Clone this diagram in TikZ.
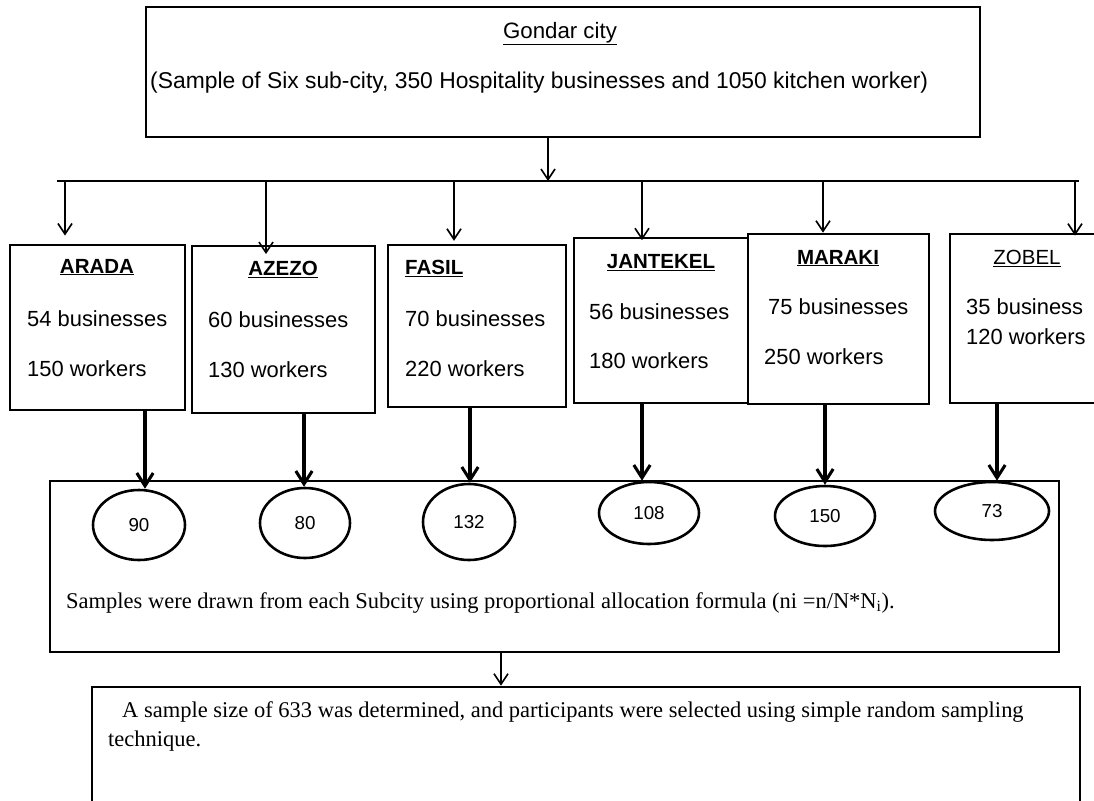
\documentclass[tikz,border=0pt]{standalone}
\usepackage{fontspec}
\setmainfont{Liberation Sans}
\newfontfamily\timesfont{Liberation Serif}
\usetikzlibrary{arrows.meta,positioning,fit,shapes.geometric}

\begin{document}
\begin{tikzpicture}[x=0.03cm,y=-0.03cm,
  >={Straight Barb[length=9pt,width=12pt]},
  box/.style={draw,line width=2.2pt,inner sep=0pt},
  oval/.style={draw,ellipse,line width=2.2pt,inner sep=0pt,font=\fontsize{16}{18}\selectfont},
  txt/.style={anchor=base west,inner sep=0pt,font=\fontsize{18.7}{22}\selectfont},
  ttl/.style={anchor=base,inner sep=0pt,font=\fontsize{17.5}{21}\selectfont},
  serif/.style={anchor=base west,inner sep=0pt,font=\timesfont\fontsize{19.2}{23}\selectfont},
  link/.style={->,line width=1.4pt},
  drop/.style={->,line width=2.6pt,>={Straight Barb[length=11pt,width=14pt]}}]
  \useasboundingbox (0,0) rectangle (1094,800);

  % City box
  \node[box,fit={(146,7)(980,137)}] (city) {};
  \node[ttl,font=\fontsize{19}{22}\selectfont] (cityname) at (560,38) {\underline{Gondar city}};
  \node[txt,font=\fontsize{19.5}{23}\selectfont] (citysample) at (150,88) {(Sample of Six sub-city, 350 Hospitality businesses and 1050 kitchen worker)};

  % Branch line
  \coordinate (busw) at (57,181);
  \coordinate (buse) at (1079,181);
  \draw[line width=2.4pt] (busw) -- (buse);
  \draw[link] (548,0 |- city.south) -- (548,0 |- busw);

  % Sub-city boxes
  \node[box,fit={(10,245)(185,410)}] (arada) {};
  \node[ttl] at (97,273) {\underline{\textbf{ARADA}}};
  \node[txt] at (27,326) {54 businesses};
  \node[txt] at (27,376) {150 workers};

  \node[box,fit={(192,246)(375,413)}] (azezo) {};
  \node[ttl] at (283,275) {\underline{\textbf{AZEZO}}};
  \node[txt] at (208,327) {60 businesses};
  \node[txt] at (208,377) {130 workers};

  \node[box,fit={(388,245)(566,407)}] (fasil) {};
  \node[txt,font=\fontsize{17.5}{21}\selectfont] at (405,274) {\underline{\textbf{FASIL}}};
  \node[txt] at (405,326) {70 businesses};
  \node[txt] at (405,376) {220 workers};

  \node[box,fit={(574,238)(748,403)}] (jantekel) {};
  \node[ttl] at (661,268) {\underline{\textbf{JANTEKEL}}};
  \node[txt] at (589,319) {56 businesses};
  \node[txt] at (589,368) {180 workers};

  \node[box,fit={(748,234)(929,404)}] (maraki) {};
  \node[ttl] at (838,264) {\underline{\textbf{MARAKI}}};
  \node[txt] at (768,314) {75 businesses};
  \node[txt] at (764,364) {250 workers};

  \node[box,fit={(950,234)(1100,403)}] (zobel) {};
  \node[ttl] at (1027,264) {\underline{ZOBEL}};
  \node[txt] at (966,314) {35 business};
  \node[txt] at (966,344) {120 workers};

  % Drops from the branch line
  \draw[link,shorten >=7pt] (65,0 |- busw) -- (65,0 |- arada.north);
  \draw[link,shorten >=-8pt] (266,0 |- busw) -- (266,0 |- azezo.north);
  \draw[link,shorten >=2.5pt] (454,0 |- busw) -- (454,0 |- fasil.north);
  \draw[link,shorten >=-3pt] (642,0 |- busw) -- (642,0 |- jantekel.north);
  \draw[link] (823,0 |- busw) -- (823,0 |- maraki.north);
  \draw[link,shorten >=-2.5pt] (1075,0 |- busw) -- (1075,0 |- zobel.north);

  % Allocation box with sample sizes
  \node[box,fit={(50,481)(1059,652)}] (alloc) {};
  \node[oval,minimum width=2.76cm,minimum height=2.1cm] (e1) at (139,525) {90};
  \node[oval,minimum width=2.7cm,minimum height=2.1cm] (e2) at (305,523) {80};
  \node[oval,minimum width=2.76cm,minimum height=2.28cm] (e3) at (469,522) {132};
  \node[oval,minimum width=3.0cm,minimum height=1.86cm] (e4) at (649,513) {108};
  \node[oval,minimum width=3.0cm,minimum height=1.8cm] (e5) at (825,516) {150};
  \node[oval,minimum width=3.42cm,minimum height=1.74cm] (e6) at (992,511) {73};
  \node[serif] (alloctext) at (66,608) {Samples were drawn from each Subcity using proportional allocation formula (ni =n/N*N\textsubscript{i}).};

  \draw[drop] (145,0 |- arada.south) -- (145,0 |- e1.north);
  \draw[drop] (304,0 |- azezo.south) -- (304,0 |- e2.north);
  \draw[drop] (470,0 |- fasil.south) -- (470,0 |- e3.north);
  \draw[drop] (642,0 |- jantekel.south) -- (642,0 |- e4.north);
  \draw[drop] (825,0 |- maraki.south) -- (825,0 |- e5.north);
  \draw[drop] (997,0 |- zobel.south) -- (997,0 |- e6.north);

  % Final sample box
  \node[box,fit={(92,687)(1080,815)}] (result) {};
  \draw[link] (501,0 |- alloc.south) -- (501,0 |- result.north);
  \node[serif] (resultline) at (122,717) {A sample size of 633 was determined, and participants were selected using simple random sampling};
  \node[serif] (resultend) at (108,746) {technique.};
\end{tikzpicture}
\end{document}
